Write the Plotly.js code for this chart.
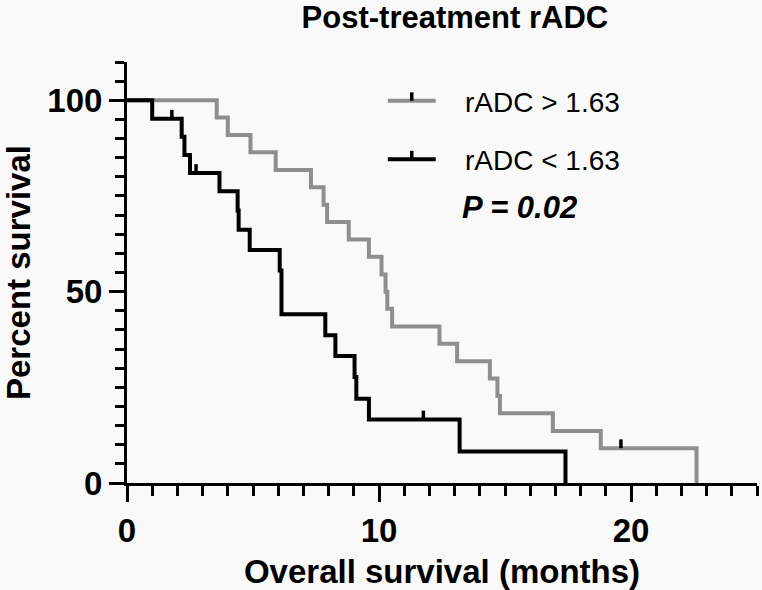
<!DOCTYPE html>
<html>
<head>
<meta charset="utf-8">
<script src="https://cdn.plot.ly/plotly-3.0.1.min.js"></script>
<style>html,body{margin:0;padding:0;background:#f9f9f9;}#chart{width:762px;height:590px;}</style>
</head>
<body>
<div id="chart"></div>
<script>
// Kaplan-Meier steps
const highName = "rADC > 1.63";
const highTimes = [0, 3.56, 4.0, 4.9, 5.9, 7.3, 7.8, 7.94, 8.8, 9.6, 10.1, 10.26, 10.33, 10.52, 12.4, 13.1, 14.4, 14.7, 14.8, 16.9, 18.8, 22.6];
const highSurv  = [100, 95.5, 90.9, 86.4, 81.8, 77.3, 72.7, 68.2, 63.6, 59.1, 54.5, 50.0, 45.5, 40.9, 36.4, 31.8, 27.3, 22.7, 18.2, 13.6, 9.1, 0];
const highCensorTimes = [19.6];
const highCensorSurv  = [9.1];

const lowName = "rADC < 1.63";
const lowTimes = [0, 1.0, 2.17, 2.28, 2.5, 3.67, 4.39, 4.43, 4.87, 6.06, 6.13, 7.87, 8.27, 9.03, 9.1, 9.6, 13.2, 17.4];
const lowSurv  = [100, 95.2, 90.5, 85.7, 81.0, 76.2, 71.2, 66.2, 60.9, 55.5, 44.1, 38.6, 33.2, 27.7, 22.0, 16.6, 8.2, 0];
const lowCensorTimes = [1.78, 2.74, 11.76];
const lowCensorSurv  = [95.2, 81.0, 16.6];

const xTickVals = [0, 10, 20];
const yTickVals = [0, 50, 100];
const chartTitle = "Post-treatment rADC";
const xTitle = "Overall survival (months)";
const yTitle = "Percent survival";
const pLabel = "P = 0.02";

const GRAY = "#8e8e8e", BLACK = "#000000";
const FONT = "Liberation Sans, Arial, Helvetica, sans-serif";
const TICK_H = 2.3;

function censorTrace(times, surv) {
  const x = [], y = [];
  times.forEach((t, i) => { x.push(t, t, null); y.push(surv[i], surv[i] + TICK_H, null); });
  return {x, y, mode: "lines", line: {color: BLACK, width: 3.5}, showlegend: false, hoverinfo: "skip", cliponaxis: false};
}

const traces = [
  {x: highTimes, y: highSurv, mode: "lines", line: {shape: "hv", color: GRAY, width: 4}, name: highName, showlegend: false, cliponaxis: false},
  {x: lowTimes, y: lowSurv, mode: "lines", line: {shape: "hv", color: BLACK, width: 4}, name: lowName, showlegend: false, cliponaxis: false},
  censorTrace(highCensorTimes, highCensorSurv),
  censorTrace(lowCensorTimes, lowCensorSurv)
];

// legend drawn manually (paper coordinates)
const legX0 = 0.414, legX1 = 0.490, legTick = 0.452, legText = 0.533;
const legY = [0.908, 0.769];
const legColors = [GRAY, BLACK];
const legNames = [highName, lowName];
const shapes = [], annotations = [];
legY.forEach((yy, i) => {
  shapes.push({type: "line", xref: "paper", yref: "paper", x0: legX0, x1: legX1, y0: yy, y1: yy, line: {color: legColors[i], width: 4}});
  shapes.push({type: "line", xref: "paper", yref: "paper", x0: legTick, x1: legTick, y0: yy, y1: yy + 0.02, line: {color: BLACK, width: 3.5}});
  annotations.push({xref: "paper", yref: "paper", x: legText, y: yy - 0.004, xanchor: "left", yanchor: "middle", text: legNames[i], showarrow: false, font: {family: FONT, size: 28, color: "#000"}});
});
annotations.push({xref: "paper", yref: "paper", x: 0.528, y: 0.655, xanchor: "left", yanchor: "middle", text: "<b><i>" + pLabel + "</i></b>", showarrow: false, font: {family: FONT, size: 31, color: "#000"}});

const layout = {
  width: 762, height: 590,
  paper_bgcolor: "#f9f9f9", plot_bgcolor: "#f9f9f9",
  margin: {l: 127, r: 5, t: 62, b: 107},
  font: {family: FONT, color: "#000"},
  title: {text: chartTitle, font: {family: FONT, size: 31, weight: "bold", color: "#000"}, xref: "container", x: 0.597, xanchor: "center", yref: "container", y: 0.971, yanchor: "middle"},
  xaxis: {
    range: [0, 25], tickvals: xTickVals, ticktext: xTickVals.map(String),
    ticks: "outside", ticklen: 16, tickwidth: 3, tickcolor: "#000",
    showline: true, linewidth: 3, linecolor: "#000", showgrid: false, zeroline: false,
    minor: {dtick: 1, tick0: 0, ticks: "outside", ticklen: 10, tickwidth: 3, tickcolor: "#000", showgrid: false},
    tickfont: {family: FONT, size: 33, weight: "bold", color: "#000"},
    title: {text: xTitle, standoff: 14, font: {family: FONT, size: 33, weight: "bold", color: "#000"}},
    fixedrange: true
  },
  yaxis: {
    range: [0, 110], tickvals: yTickVals, ticktext: yTickVals.map(String),
    ticks: "outside", ticklen: 15, tickwidth: 3, tickcolor: "#000",
    showline: true, linewidth: 3, linecolor: "#000", showgrid: false, zeroline: false,
    minor: {dtick: 5, tick0: 0, ticks: "outside", ticklen: 9, tickwidth: 3, tickcolor: "#000", showgrid: false},
    tickfont: {family: FONT, size: 33, weight: "bold", color: "#000"},
    title: {text: yTitle, standoff: 12, font: {family: FONT, size: 33, weight: "bold", color: "#000"}},
    fixedrange: true
  },
  shapes, annotations,
  showlegend: false
};

Plotly.newPlot("chart", traces, layout, {displayModeBar: false, staticPlot: true});
</script>
</body>
</html>
